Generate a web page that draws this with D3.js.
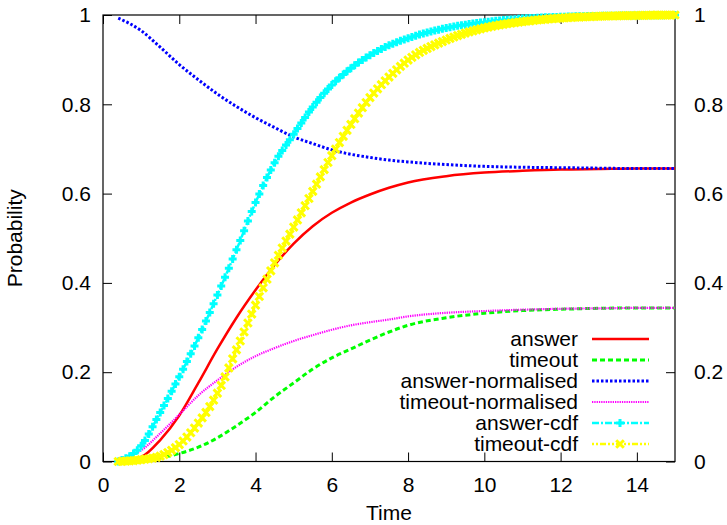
<!DOCTYPE html>
<html>
<head>
<meta charset="utf-8">
<script src="https://cdn.jsdelivr.net/npm/d3@7"></script>
<style>
  body { margin: 0; background: #fff; }
  text { font-family: "Liberation Sans", Arial, sans-serif; font-size: 21px; fill: #000; }
</style>
</head>
<body>
<div id="chart"></div>
<script>
// values
var times = [0.4, 1, 1.5, 2, 2.5, 3, 3.5, 4, 4.5, 5, 5.5, 6, 6.5, 7, 7.5, 8, 9, 10, 11, 12, 13, 14, 15];
var answer = [0, 0.01, 0.048, 0.103, 0.176, 0.252, 0.322, 0.384, 0.44, 0.488, 0.527, 0.557, 0.58, 0.598, 0.613, 0.625, 0.639, 0.647, 0.651, 0.654, 0.655, 0.656, 0.656];
var timeout = [0, 0.002, 0.008, 0.018, 0.032, 0.053, 0.08, 0.11, 0.145, 0.176, 0.207, 0.232, 0.252, 0.272, 0.29, 0.305, 0.322, 0.332, 0.338, 0.341, 0.343, 0.344, 0.344];
var answerNorm = [0.993, 0.965, 0.928, 0.889, 0.855, 0.823, 0.795, 0.77, 0.748, 0.727, 0.712, 0.698, 0.688, 0.681, 0.675, 0.671, 0.665, 0.661, 0.659, 0.658, 0.657, 0.656, 0.656];
var timeoutNorm = [0.007, 0.025, 0.063, 0.105, 0.148, 0.182, 0.212, 0.236, 0.254, 0.27, 0.283, 0.295, 0.305, 0.312, 0.318, 0.325, 0.333, 0.337, 0.34, 0.342, 0.343, 0.344, 0.344];
var answerCdf = [0, 0.035, 0.11, 0.19, 0.277, 0.373, 0.474, 0.58, 0.669, 0.733, 0.794, 0.843, 0.881, 0.91, 0.932, 0.948, 0.971, 0.984, 0.992, 0.996, 0.998, 0.999, 1.0];
var timeoutCdf = [0, 0.004, 0.012, 0.038, 0.086, 0.153, 0.25, 0.35, 0.445, 0.525, 0.605, 0.685, 0.755, 0.815, 0.861, 0.899, 0.944, 0.971, 0.985, 0.993, 0.997, 0.999, 1.0];

var seriesNames = ["answer", "timeout", "answer-normalised", "timeout-normalised", "answer-cdf", "timeout-cdf"];
var xTicks = [0, 2, 4, 6, 8, 10, 12, 14];
var yTicks = [0, 0.2, 0.4, 0.6, 0.8, 1];

var svgWidth = 727;
var svgHeight = 525;
var margin = { top: 15, right: 52, bottom: 63.5, left: 103 };
var width = svgWidth - margin.left - margin.right;
var height = svgHeight - margin.top - margin.bottom;

var svg = d3.select("#chart")
  .append("svg")
  .attr("width", svgWidth)
  .attr("height", svgHeight);

var chartGroup = svg.append("g")
  .attr("transform", `translate(${margin.left}, ${margin.top})`);

var xScale = d3.scaleLinear().domain([0, 15]).range([0, width]);
var yScale = d3.scaleLinear().domain([0, 1]).range([height, 0]);

// axes, ticks pointing inward on all four sides
function styleAxis(g) {
  g.select(".domain").remove();
  g.selectAll(".tick line").attr("stroke", "#000").attr("stroke-width", 1);
  g.selectAll("text").attr("fill", "#000").attr("font-size", 21).attr("font-family", null);
}

chartGroup.append("g")
  .attr("transform", `translate(0, ${height})`)
  .call(d3.axisBottom(xScale).tickValues(xTicks).tickSize(-9).tickPadding(16).tickFormat(d3.format("d")))
  .call(styleAxis);

chartGroup.append("g")
  .call(d3.axisTop(xScale).tickValues(xTicks).tickSize(-9).tickFormat(""))
  .call(styleAxis);

chartGroup.append("g")
  .call(d3.axisLeft(yScale).tickValues(yTicks).tickSize(-9).tickPadding(12).tickFormat(d3.format("")))
  .call(styleAxis);

chartGroup.append("g")
  .attr("transform", `translate(${width}, 0)`)
  .call(d3.axisRight(yScale).tickValues(yTicks).tickSize(-9).tickPadding(19).tickFormat(d3.format("")))
  .call(styleAxis);

chartGroup.append("rect")
  .attr("width", width)
  .attr("height", height)
  .attr("fill", "none")
  .attr("stroke", "#000")
  .attr("stroke-width", 1.2);

// axis titles
svg.append("text")
  .attr("x", margin.left + width / 2)
  .attr("y", 520)
  .attr("text-anchor", "middle")
  .text("Time");

svg.append("text")
  .attr("transform", `translate(22, ${margin.top + height / 2}) rotate(-90)`)
  .attr("text-anchor", "middle")
  .text("Probability");

// line styles
var styles = [
  { values: answer, color: "#ff0000", dash: null, width: 2.5 },
  { values: timeout, color: "#00ff00", dash: "5,3", width: 3 },
  { values: answerNorm, color: "#0000ff", dash: "2.5,2", width: 3 },
  { values: timeoutNorm, color: "#ff00ff", dash: "1.3,1", width: 2.2 },
  { values: answerCdf, color: "#00ffff", dash: "7,2,2,2", width: 2.5, marker: "plus" },
  { values: timeoutCdf, color: "#ffff00", dash: "2,2,2,2,6,2", width: 2.5, marker: "cross" }
];

var line = d3.line()
  .x(d => xScale(d[0]))
  .y(d => yScale(d[1]))
  .curve(d3.curveMonotoneX);

function markerPath(type, s) {
  if (type === "plus") return `M${-s},0H${s}M0,${-s}V${s}`;
  return `M${-s},${-s}L${s},${s}M${-s},${s}L${s},${-s}`;
}

// find the point on a drawn path at a given pixel x
function pointAtX(pathNode, px) {
  var total = pathNode.getTotalLength();
  var lo = 0, hi = total;
  for (var i = 0; i < 30; i++) {
    var mid = (lo + hi) / 2;
    if (pathNode.getPointAtLength(mid).x < px) lo = mid; else hi = mid;
  }
  return pathNode.getPointAtLength(hi);
}

styles.forEach(function(st) {
  var pts = times.map((t, i) => [t, st.values[i]]);
  var path = chartGroup.append("path")
    .datum(pts)
    .attr("fill", "none")
    .attr("stroke", st.color)
    .attr("stroke-width", st.width)
    .attr("stroke-dasharray", st.dash)
    .attr("d", line);

  if (st.marker) {
    // gnuplot-style point markers every 0.1 along the line
    var node = path.node();
    var mg = chartGroup.append("g");
    for (var k = 0; k <= 146; k++) {
      var p = pointAtX(node, xScale(0.4 + k * 0.1));
      mg.append("path")
        .attr("transform", `translate(${p.x}, ${p.y})`)
        .attr("d", markerPath(st.marker, st.marker === "plus" ? 4 : 3.8))
        .attr("stroke", st.color)
        .attr("stroke-width", 3)
        .attr("fill", "none");
    }
  }
});

// legend
var legend = svg.append("g");
seriesNames.forEach(function(name, i) {
  var y = 339 + i * 21;
  var st = styles[i];
  legend.append("text")
    .attr("x", 578)
    .attr("y", y)
    .attr("dy", "0.35em")
    .attr("text-anchor", "end")
    .text(name);
  legend.append("line")
    .attr("x1", 592).attr("x2", 649)
    .attr("y1", y).attr("y2", y)
    .attr("stroke", st.color)
    .attr("stroke-width", st.width)
    .attr("stroke-dasharray", st.dash);
  if (st.marker) {
    legend.append("path")
      .attr("transform", `translate(620, ${y})`)
      .attr("d", markerPath(st.marker, st.marker === "plus" ? 4 : 3.8))
      .attr("stroke", st.color)
      .attr("stroke-width", 3)
      .attr("fill", "none");
  }
});
</script>
</body>
</html>
